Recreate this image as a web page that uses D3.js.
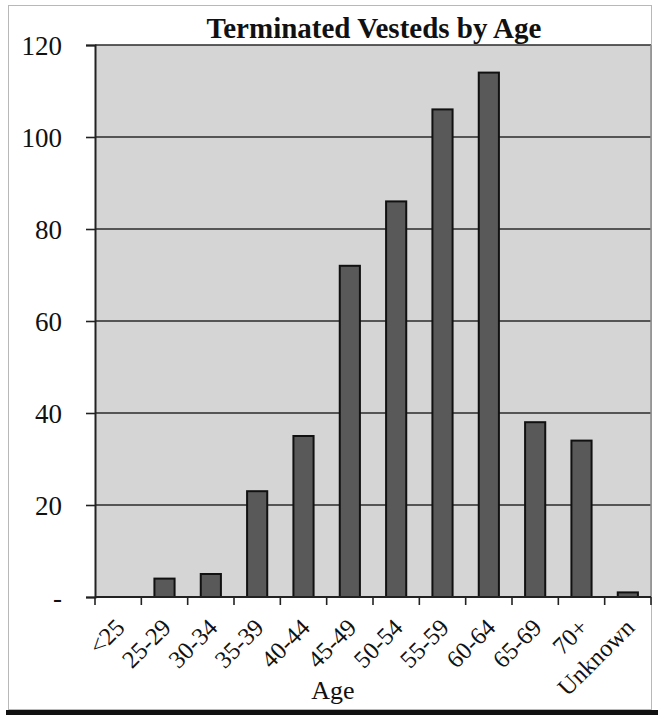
<!DOCTYPE html>
<html>
<head>
<meta charset="utf-8">
<script src="https://cdn.jsdelivr.net/npm/d3@7/dist/d3.min.js"></script>
<style>
  html, body { margin: 0; padding: 0; background: #ffffff; }
  svg { display: block; }
  text { font-family: "Liberation Serif", "Times New Roman", serif; fill: #111; }
</style>
</head>
<body>
<svg id="chart" width="658" height="715"></svg>
<script>
// Age bands and counts of terminated vested members
const ageGroups = ["<25", "25-29", "30-34", "35-39", "40-44", "45-49", "50-54",
                   "55-59", "60-64", "65-69", "70+", "Unknown"];
const counts = [0, 4, 5, 23, 35, 72, 86, 106, 114, 38, 34, 1];
const yTicks = [0, 20, 40, 60, 80, 100, 120];

const chartTitle = "Terminated Vesteds by Age";
const xTitle = "Age";

const W = 658, H = 715;
const plot = { left: 95, right: 651, top: 45, bottom: 597 };

const svg = d3.select("#chart");

// outer chart frame
svg.append("rect")
  .attr("x", 8.5).attr("y", 5.5)
  .attr("width", 643).attr("height", 704)
  .attr("fill", "#ffffff")
  .attr("stroke", "#b8b8b8").attr("stroke-width", 1);
svg.append("rect")
  .attr("x", 6).attr("y", 710)
  .attr("width", W - 6).attr("height", 5)
  .attr("fill", "#111");

const x = d3.scaleBand()
  .domain(ageGroups)
  .range([plot.left, plot.right])
  .paddingInner(0.565)
  .paddingOuter(0.2825);

const y = d3.scaleLinear()
  .domain([0, 120])
  .range([plot.bottom, plot.top]);

// plot area
svg.append("rect")
  .attr("x", plot.left).attr("y", plot.top)
  .attr("width", plot.right - plot.left)
  .attr("height", plot.bottom - plot.top)
  .attr("fill", "#d5d5d5");

// horizontal gridlines
svg.append("g")
  .selectAll("line")
  .data(yTicks.filter(d => d > 0))
  .join("line")
  .attr("x1", plot.left).attr("x2", plot.right)
  .attr("y1", d => y(d)).attr("y2", d => y(d))
  .attr("stroke", "#2a2a2a").attr("stroke-width", 1.6);

// right edge of plot area
svg.append("line")
  .attr("x1", plot.right).attr("x2", plot.right)
  .attr("y1", plot.top).attr("y2", plot.bottom)
  .attr("stroke", "#8a8a8a").attr("stroke-width", 1.5);

// bars
svg.append("g")
  .selectAll("rect")
  .data(ageGroups.map((g, i) => ({ g, v: counts[i] })))
  .join("rect")
  .attr("x", d => x(d.g))
  .attr("y", d => y(d.v))
  .attr("width", x.bandwidth())
  .attr("height", d => y(0) - y(d.v))
  .attr("fill", "#595959")
  .attr("stroke", "#111")
  .attr("stroke-width", 2);

// y axis
const yAxis = d3.axisLeft(y)
  .tickValues(yTicks)
  .tickSize(9)
  .tickPadding(24)
  .tickFormat(d => d === 0 ? "-" : d3.format("d")(d));
const gy = svg.append("g")
  .attr("transform", `translate(${plot.left},0)`)
  .call(yAxis);
gy.select(".domain").attr("stroke", "#222").attr("stroke-width", 2);
gy.selectAll(".tick line").attr("stroke", "#222").attr("stroke-width", 1.6);
gy.selectAll(".tick text")
  .attr("font-size", 27)
  .attr("font-family", "Liberation Serif, serif")
  .attr("fill", "#111")
  .attr("dy", "0.34em");

// x axis: baseline and ticks at category boundaries
const gx = svg.append("g");
gx.append("line")
  .attr("x1", plot.left).attr("x2", plot.right)
  .attr("y1", plot.bottom).attr("y2", plot.bottom)
  .attr("stroke", "#222").attr("stroke-width", 2);
const bounds = d3.range(ageGroups.length + 1)
  .map(i => plot.left + i * x.step());
gx.selectAll("line.tk")
  .data(bounds)
  .join("line")
  .attr("class", "tk")
  .attr("x1", d => d).attr("x2", d => d)
  .attr("y1", plot.bottom).attr("y2", plot.bottom + 8)
  .attr("stroke", "#222").attr("stroke-width", 1.6);

// rotated category labels
gx.selectAll("text")
  .data(ageGroups)
  .join("text")
  .attr("transform", d => `translate(${x(d) + x.bandwidth() / 2 + 8},${plot.bottom + 32}) rotate(-45)`)
  .attr("text-anchor", "end")
  .attr("font-size", 24.5)
  .text(d => d);

// titles
svg.append("text")
  .attr("x", 374).attr("y", 38)
  .attr("text-anchor", "middle")
  .attr("font-size", 29)
  .attr("font-weight", "bold")
  .text(chartTitle);

svg.append("text")
  .attr("x", 333).attr("y", 699)
  .attr("text-anchor", "middle")
  .attr("font-size", 26)
  .text(xTitle);
</script>
</body>
</html>
